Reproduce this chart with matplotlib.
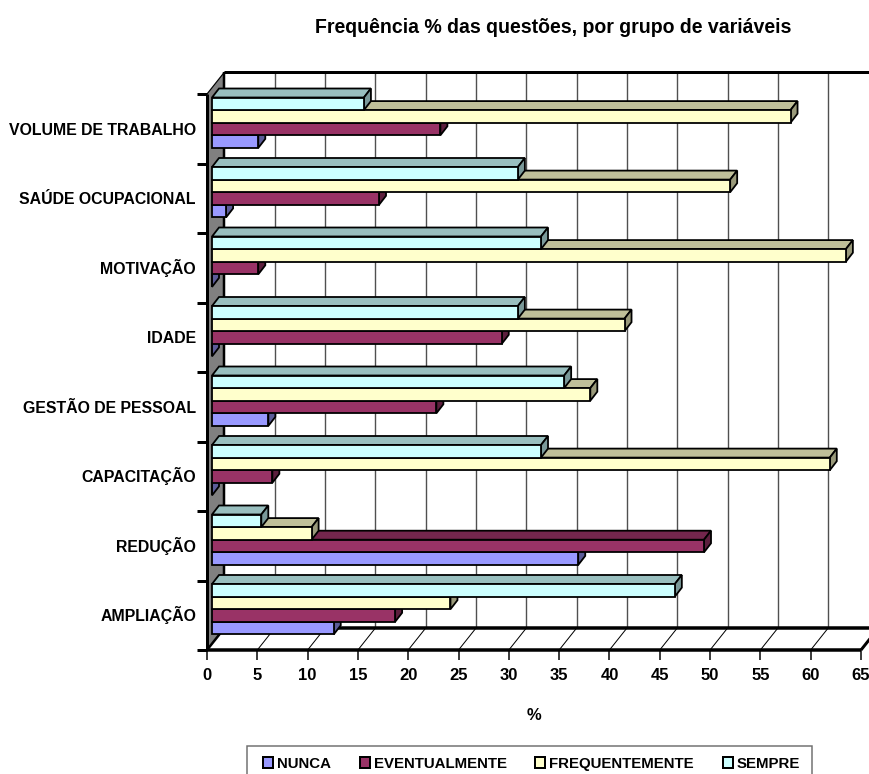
import matplotlib
matplotlib.use("Agg")
import matplotlib.pyplot as plt
from matplotlib.patches import Polygon, Rectangle

plt.rcParams['font.family'] = ['Liberation Sans', 'DejaVu Sans']

categories = ['AMPLIAÇÃO', 'REDUÇÃO', 'CAPACITAÇÃO', 'GESTÃO DE PESSOAL',
              'IDADE', 'MOTIVAÇÃO', 'SAÚDE OCUPACIONAL', 'VOLUME DE TRABALHO']
nunca = [12.1, 36.4, 0, 5.6, 0, 0, 1.4, 4.6]
eventualmente = [18.2, 48.9, 6.0, 22.3, 28.8, 4.6, 16.6, 22.7]
frequentemente = [23.7, 9.9, 61.4, 37.6, 41.0, 63.0, 51.5, 57.5]
sempre = [46.0, 4.9, 32.7, 35.0, 30.4, 32.7, 30.4, 15.1]
series_names = ['NUNCA', 'EVENTUALMENTE', 'FREQUENTEMENTE', 'SEMPRE']
xticks = list(range(0, 70, 5))

W, H = 870, 774
X0, X65, Y_BOTTOM, Y_TOP = 207, 861, 650, 94
PX_PER_X = (X65 - X0) / 65
PX_PER_Y = (Y_BOTTOM - Y_TOP) / 8

# oblique projection offsets, in data units
WALL_DX, WALL_DY = 17.5 / PX_PER_X, 22 / PX_PER_Y
BAR_DX, BAR_DY = 7 / PX_PER_X, 9 / PX_PER_Y
BAR_X0 = 5 / PX_PER_X
BAR_H = 12.6 / PX_PER_Y
GROUP_TOP = 3.5 / PX_PER_Y   # gap between a band's upper edge and its first bar

# face colours: front, top, side
faces = {
    'NUNCA': ('#9999FF', '#7373BF', '#5C5C99'),
    'EVENTUALMENTE': ('#993366', '#73264D', '#5C1F3D'),
    'FREQUENTEMENTE': ('#FFFFCC', '#BFBF99', '#99997A'),
    'SEMPRE': ('#CCFFFF', '#99BFBF', '#7A9999'),
}
values = {'NUNCA': nunca, 'EVENTUALMENTE': eventualmente,
          'FREQUENTEMENTE': frequentemente, 'SEMPRE': sempre}

fig = plt.figure(figsize=(W / 100, H / 100), dpi=100, facecolor='white')
ax = fig.add_axes([X0 / W, 1 - Y_BOTTOM / H, (X65 - X0) / W, (Y_BOTTOM - Y_TOP) / H])
ax.set_xlim(0, 65)
ax.set_ylim(0, 8)
ax.patch.set_visible(False)
for s in ax.spines.values():
    s.set_visible(False)


def lw(px):
    return px * 0.72


def line(xs, ys, px=1.0, color='black', z=1):
    ax.plot(xs, ys, color=color, lw=lw(px), clip_on=False, zorder=z,
            solid_capstyle='butt')


# left wall
ax.add_patch(Polygon([(0, 0), (WALL_DX, WALL_DY), (WALL_DX, 8 + WALL_DY), (0, 8)],
                     closed=True, fc='#808080', ec='none', clip_on=False, zorder=1))
# back-wall gridlines and floor lines
for t in xticks:
    bx = t + WALL_DX
    if t > 0:
        line([bx, bx], [WALL_DY, 8 + WALL_DY], 1.4, '#505050', 1)
    line([t, bx], [0, WALL_DY], 1.0, 'black', 1)

xmax = 66
line([WALL_DX, xmax], [8 + WALL_DY] * 2, 3, 'black', 2)
line([WALL_DX, xmax], [WALL_DY] * 2, 3.5, 'black', 2)
line([WALL_DX, WALL_DX], [WALL_DY, 8 + WALL_DY], 2.5, 'black', 2)
line([0, WALL_DX], [8, 8 + WALL_DY], 1.2, 'black', 2)
line([0, 0], [0, 8], 3, 'black', 3)
line([0, 65], [0, 0], 3.5, 'black', 3)
line([65, 65 + WALL_DX], [0, WALL_DY], 3, 'black', 3)
line([0, WALL_DX], [0, WALL_DY], 2.5, 'black', 3)


def draw_bar(v, y_low, cols, z):
    x0, x1 = BAR_X0, BAR_X0 + v
    y1 = y_low + BAR_H
    front, top, side = cols
    kw = dict(closed=True, ec='black', lw=lw(1.8), clip_on=False, zorder=z, joinstyle='miter')
    ax.add_patch(Polygon([(x0, y1), (x1, y1), (x1 + BAR_DX, y1 + BAR_DY), (x0 + BAR_DX, y1 + BAR_DY)],
                         fc=top, **kw))
    ax.add_patch(Polygon([(x1, y_low), (x1 + BAR_DX, y_low + BAR_DY), (x1 + BAR_DX, y1 + BAR_DY), (x1, y1)],
                         fc=side, **kw))
    ax.add_patch(Polygon([(x0, y_low), (x1, y_low), (x1, y1), (x0, y1)], fc=front, **kw))


# lowest bars first, so each bar's front hides the top face of the one beneath
z = 10
for i in range(len(categories)):
    band_top = i + 1 - GROUP_TOP
    for k, name in enumerate(series_names):
        y_low = band_top - (4 - k) * BAR_H
        draw_bar(values[name][i], y_low, faces[name], z)
        z += 1

ax.set_xticks(xticks)
ax.set_xticklabels([str(t) for t in xticks])
ax.set_yticks(range(9))
ax.set_yticklabels([])
# category names sit on a common baseline a little below each band's middle
label_drop = 6.2 / PX_PER_Y
ax.set_yticks([i + 0.5 - label_drop for i in range(8)], minor=True)
ax.set_yticklabels(categories, minor=True, va='baseline')
ax.tick_params(axis='x', length=lw(10), width=lw(1.5), pad=6, labelsize=12)
ax.tick_params(axis='y', which='major', length=lw(10), width=lw(3))
ax.tick_params(axis='y', which='minor', length=0, pad=lw(11), labelsize=11.45)
for lab in ax.get_xticklabels() + ax.get_yticklabels(minor=True):
    lab.set_fontweight('bold')
for t in ax.xaxis.get_major_ticks() + ax.yaxis.get_major_ticks():
    t.tick1line.set_clip_on(False)

fig.text(553 / W, 1 - 33 / H, 'Frequência % das questões, por grupo de variáveis',
         ha='center', va='baseline', fontsize=14.05, fontweight='bold')
fig.text(534 / W, 1 - 715 / H, '%', ha='center', va='center', fontsize=12, fontweight='bold')

# legend: frame runs past the lower edge of the figure
fig.add_artist(Rectangle((247 / W, 1 - 790 / H), 565 / W, 44 / H, transform=fig.transFigure,
                         fc='white', ec='#707070', lw=lw(1.5)))
key_left = [263, 360, 535, 723]
for name, kx in zip(series_names, key_left):
    fig.add_artist(Rectangle((kx / W, 1 - 768 / H), 10 / W, 11 / H, transform=fig.transFigure,
                             fc=faces[name][0], ec='black', lw=lw(2)))
    fig.text((kx + 14) / W, 1 - 768 / H, name, ha='left', va='baseline',
             fontsize=10.8, fontweight='bold')

fig.savefig('out.png', dpi=100)
